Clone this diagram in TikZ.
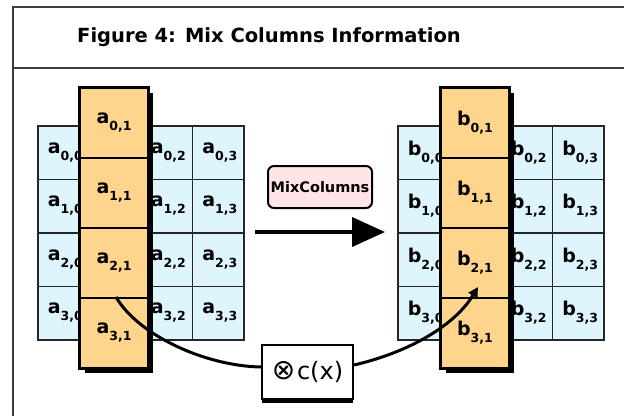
\documentclass[tikz,border=0pt]{standalone}
\usepackage{fontspec}
\setmainfont{DejaVu Sans}
\usetikzlibrary{arrows.meta}
\definecolor{cellblue}{RGB}{222,245,253}
\definecolor{cellorange}{RGB}{255,212,140}
\definecolor{boxpink}{RGB}{255,229,229}
\definecolor{framegray}{RGB}{60,60,60}
% state byte label: letter with a lowered "row,column" index
\newcommand{\bytelabel}[2]{{\fontsize{19}{19}\selectfont\bfseries #1}\raisebox{-7pt}{\fontsize{12.5}{12.5}\selectfont\bfseries #2}}
\begin{document}
\begin{tikzpicture}[x=1pt,y=-1pt,
  bluecell/.style={draw=black!85, line width=1.5pt, fill=cellblue,
    minimum width=51.5pt, minimum height=53.5pt, anchor=north west,
    inner sep=0pt, text width=51.5pt, align=left},
  orangecell/.style={draw=black, line width=2pt, fill=cellorange,
    minimum width=68pt, minimum height=70pt, anchor=north west, inner sep=0pt},
  mixbox/.style={draw=black, line width=2pt, fill=boxpink, rounded corners=6pt,
    minimum width=104pt, minimum height=42pt, inner sep=0pt},
  cxbox/.style={draw=black, line width=2pt, fill=white,
    minimum width=91pt, minimum height=54pt, inner sep=0pt},
  conn/.style={line width=3pt, draw=black}]
\useasboundingbox (0,0) rectangle (624,416);

% outer frame and title bar
\draw[framegray, line width=1.5pt] (624,7) -- (13,7) -- (13,416);
\draw[framegray, line width=1.5pt] (13,68) -- (624,68);
\node (title) at (269,37) {\fontsize{19.5}{19.5}\selectfont\bfseries Figure 4: Mix Columns Information};

% input state
\foreach \r in {0,...,3}
  \foreach \c in {0,2,3}
    \node[bluecell] (L\r\c) at ({37+51.5*\c},{125+53.5*\r}) {\hspace*{10pt}\bytelabel{a}{\r,\c}};
\fill[black] (85,93) rectangle (153,373);
\foreach \r in {0,...,3}
  \node[orangecell] (LA\r) at (79,{87+70*\r}) {\bytelabel{a}{\r,1}};
\draw[line width=2.5pt] (LA0.north west) rectangle (LA3.south east);

% output state
\foreach \r in {0,...,3}
  \foreach \c in {0,2,3}
    \node[bluecell] (R\r\c) at ({397+51.5*\c},{125+53.5*\r}) {\hspace*{10pt}\bytelabel{b}{\r,\c}};
\fill[black] (446,93) rectangle (514,373);
\foreach \r in {0,...,3}
  \node[orangecell] (RB\r) at (440,{87+70*\r}) {\bytelabel{b}{\r,1}};
\draw[line width=2.5pt] (RB0.north west) rectangle (RB3.south east);

% transformation step
\node[mixbox] (mix) at (320,187) {\fontsize{14.5}{14.5}\selectfont\bfseries MixColumns};
\coordinate (flowS) at (255,232);
\coordinate (flowE) at (385,232);
\draw[line width=4pt, -{Triangle[length=33pt,width=29pt]}] (flowS) -- (flowE);

% column multiplied by c(x)
\fill[black] (262,348) rectangle (353,403);
\node[cxbox] (cx) at (307.5,372) {{\fontsize{28}{28}\selectfont ⊗}\,{\fontsize{24}{24}\selectfont c(x)}};
\draw[conn] ([xshift=2pt]LA3.north) .. controls (138,335) and (205,366) .. ([yshift=5pt]cx.west);
\draw[conn, -{Triangle[length=10pt,width=10pt]}] ([yshift=7pt]cx.east) .. controls (410,352) and (455,325) .. ([xshift=3pt,yshift=10pt]RB3.north);
\end{tikzpicture}
\end{document}
